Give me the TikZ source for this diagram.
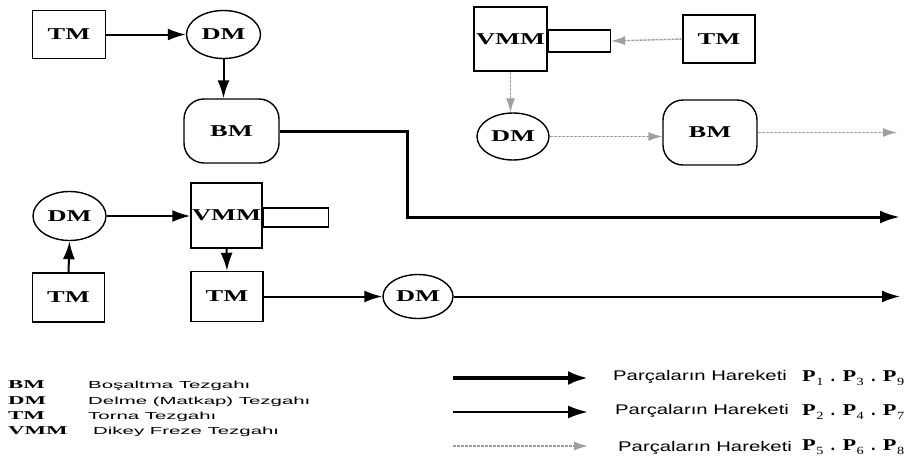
\documentclass[tikz,border=0pt]{standalone}
\usepackage{fontspec}
\usepackage{graphicx}
\usetikzlibrary{arrows.meta,shapes.geometric}
\newfontfamily\nodefont[FakeStretch=1.6,BoldFeatures={FakeStretch=1.6}]{Liberation Serif}
\newfontfamily\serifplain{Liberation Serif}
\newfontfamily\descfont[FakeStretch=2]{Liberation Sans}
\newfontfamily\mvfont[FakeStretch=1.45]{Liberation Sans}
\newcommand\leg[1]{\scalebox{1.9}[1]{\serifplain\bfseries\fontsize{12}{13}\selectfont #1}}
\newcommand\pp[1]{\scalebox{1.35}[1]{\serifplain\bfseries\fontsize{16.5}{18}\selectfont P}\kern0.5pt\lower4pt\hbox{\scalebox{1.3}[1]{\serifplain\fontsize{11}{12}\selectfont #1}}}
\newcommand\psep{\hskip7.5pt{\serifplain\bfseries\fontsize{16.5}{18}\selectfont .}\hskip7.5pt}
\begin{document}
\begin{tikzpicture}[x=1pt,y=-1pt,
  mach/.style={draw, line width=1.4pt, inner sep=0pt, font=\nodefont\bfseries\fontsize{16.5}{18}\selectfont},
  tmbox/.style={mach, minimum width=73pt, minimum height=48pt},
  dmell/.style={mach, ellipse, minimum width=74pt, minimum height=48pt},
  bmbox/.style={mach, rounded corners=20pt, minimum width=95pt, minimum height=64pt},
  vmmbox/.style={mach, minimum width=72pt, minimum height=65pt},
  attbox/.style={draw, line width=1.4pt, inner sep=0pt, anchor=west},
  flowA/.style={line width=3pt, -{Latex[length=20pt,width=13pt]}},
  flowB/.style={line width=2pt, -{Latex[length=18pt,width=12pt]}},
  flowC/.style={draw=gray!75, line width=1.4pt, dash pattern=on 3pt off 1pt, -{Latex[length=14pt,width=9pt,fill=gray!75]}},
  leglab/.style={anchor=base west, inner sep=0pt},
  legdesc/.style={anchor=base west, inner sep=0pt, font=\descfont\fontsize{10.2}{12}\selectfont},
  mvtext/.style={anchor=base west, inner sep=0pt, font=\mvfont\fontsize{14}{16}\selectfont},
  ptext/.style={anchor=base west, inner sep=0pt}
]
\useasboundingbox (0,0) rectangle (919,467);

% top-left chain
\node[tmbox] (TM1) at (69,34.5) {TM};
\node[dmell] (DM1) at (223.5,34.5) {DM};
\node[bmbox] (BM1) at (231.5,131) {BM};
\coordinate (c1) at (407,217);
\coordinate (e1) at (900,217);
\draw[flowB] (TM1.east) -- (DM1.west);
\draw[flowB] (DM1.south) -- (DM1.south |- BM1.north);
\draw[flowA] (BM1.east) -| (c1) -- (e1);

% bottom-left chain
\node[dmell, minimum width=73pt, minimum height=49pt] (DM2) at (69.5,216) {DM};
\node[tmbox, minimum width=72pt, minimum height=49pt] (TM2) at (68.5,297.5) {TM};
\node[vmmbox, minimum width=71pt] (VMM2) at (226.5,215.5) {VMM};
\node[attbox, minimum width=65pt, minimum height=19pt] (att2) at ([yshift=-2pt]VMM2.east) {};
\node[tmbox, minimum width=72pt, minimum height=50pt] (TM3) at (227,296.5) {TM};
\node[dmell, minimum width=70pt, minimum height=44pt] (DM3) at (418,296.5) {DM};
\coordinate (e2) at (900,296.5);
\draw[flowB] (TM2.north) -- (DM2.south);
\draw[flowB] (DM2.east) -- (VMM2.west |- DM2.east);
\draw[flowB] (VMM2.south) -- (TM3.north);
\draw[flowB] (TM3.east) -- (DM3.west);
\draw[flowB] (DM3.east) -- (e2);

% top-right chain
\node[vmmbox, minimum width=73pt, minimum height=64pt] (VMM1) at (510.5,39) {VMM};
\node[attbox, minimum width=62pt, minimum height=22pt] (att1) at ([yshift=-2pt]VMM1.east) {};
\node[tmbox, minimum width=72pt, minimum height=48pt] (TM4) at (719,39) {TM};
\node[dmell, minimum width=72pt, minimum height=47pt] (DM4) at (513,136.5) {DM};
\node[bmbox, minimum width=94pt, minimum height=65pt] (BM2) at (710,132.5) {BM};
\coordinate (e3) at (897,132.5);
\draw[flowC] (TM4.west) -- (att1.east);
\draw[flowC] (VMM1.south) -- (VMM1.south |- DM4.north);
\draw[flowC] (DM4.east) -- (BM2.west |- DM4.east);
\draw[flowC] (BM2.east) -- (e3);

% legend: abbreviations
\node[leglab] (lBM) at (8,388) {\leg{BM}};
\node[leglab] (lDM) at (8,404) {\leg{DM}};
\node[leglab] (lTM) at (8,419) {\leg{TM}};
\node[leglab] (lVMM) at (8,434) {\leg{VMM}};
\node[legdesc] (dBM) at (88,388) {Boşaltma Tezgahı};
\node[legdesc] (dDM) at (88,404) {Delme (Matkap) Tezgahı};
\node[legdesc] (dTM) at (88,419) {Torna Tezgahı};
\node[legdesc] (dVMM) at (93,434) {Dikey Freze Tezgahı};

% legend: flows
\coordinate (s1) at (453,378);
\coordinate (t1) at (588,378);
\coordinate (s2) at (453,412);
\coordinate (t2) at (588,412);
\coordinate (s3) at (453,446);
\coordinate (t3) at (588,446);
\draw[line width=3.6pt, -{Latex[length=20pt,width=14pt]}] (s1) -- (t1);
\draw[line width=2.3pt, -{Latex[length=20pt,width=13pt]}] (s2) -- (t2);
\draw[flowC] (s3) -- (t3);
\node[mvtext] (m1) at (613,380) {Parçaların Hareketi};
\node[mvtext] (m2) at (615,414) {Parçaların Hareketi};
\node[mvtext] (m3) at (618,451) {Parçaların Hareketi};
\node[ptext] (p1) at (802,381) {\pp{1}\psep\pp{3}\psep\pp{9}};
\node[ptext] (p2) at (802,415) {\pp{2}\psep\pp{4}\psep\pp{7}};
\node[ptext] (p3) at (802,450) {\pp{5}\psep\pp{6}\psep\pp{8}};
\end{tikzpicture}
\end{document}
